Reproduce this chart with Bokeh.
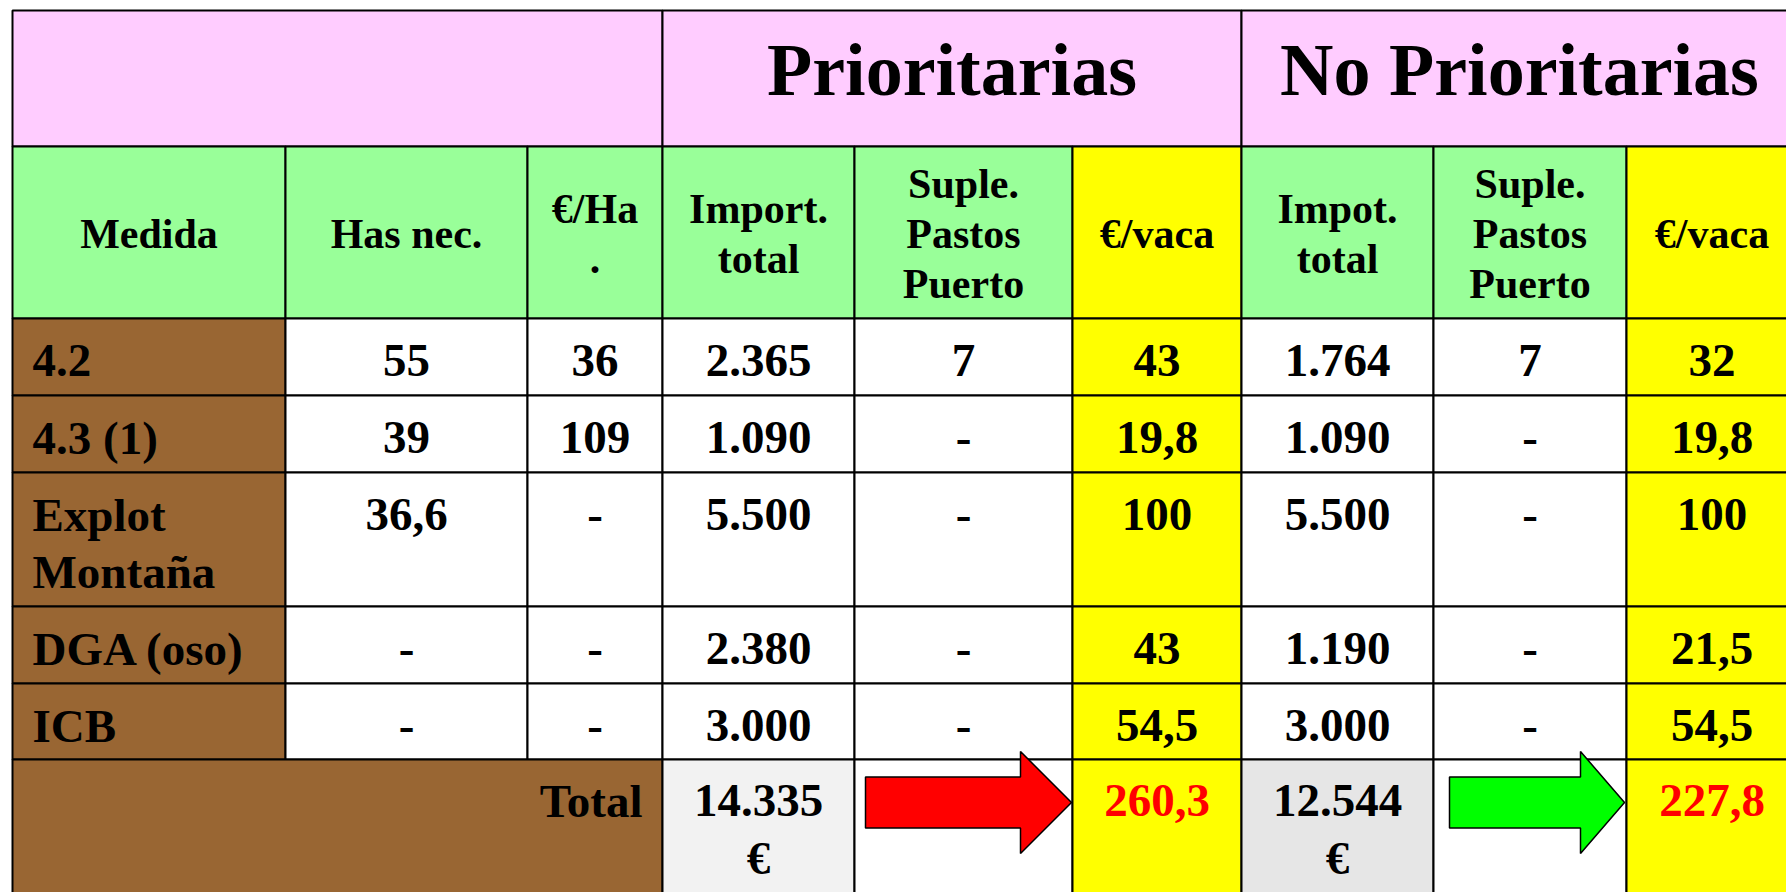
from bokeh.plotting import figure
from bokeh.models import Range1d
from bokeh.core.properties import value
from bokeh.embed import file_html
from bokeh.resources import INLINE

# ---------------- data ----------------
group_titles = ["Prioritarias", "No Prioritarias"]
col_headers = ["Medida", "Has nec.", "€/Ha\n.", "Import.\ntotal",
               "Suple.\nPastos\nPuerto", "€/vaca", "Impot.\ntotal",
               "Suple.\nPastos\nPuerto", "€/vaca"]
medidas = ["4.2", "4.3 (1)", "Explot\nMontaña", "DGA (oso)", "ICB"]
has_nec = ["55", "39", "36,6", "-", "-"]
eur_ha = ["36", "109", "-", "-", "-"]
prio_import = ["2.365", "1.090", "5.500", "2.380", "3.000"]
prio_suple = ["7", "-", "-", "-", "-"]
prio_vaca = ["43", "19,8", "100", "43", "54,5"]
noprio_import = ["1.764", "1.090", "5.500", "1.190", "3.000"]
noprio_suple = ["7", "-", "-", "-", "-"]
noprio_vaca = ["32", "19,8", "100", "21,5", "54,5"]
total_label = "Total"
prio_total_import = "14.335\n€"
prio_total_vaca = "260,3"
noprio_total_import = "12.544\n€"
noprio_total_vaca = "227,8"

# ---------------- layout / styles ----------------
W, H = 1786, 892
col_edges = [12, 285, 527, 662, 854, 1072, 1241, 1433, 1626, 1797]
row_edges = [10, 146, 318, 395, 472, 606, 683, 759, 905]
PINK, GREEN, BROWN, YELLOW = "#FFCCFF", "#99FF99", "#996633", "#FFFF00"
GRAY1, GRAY2 = "#F2F2F2", "#E6E6E6"
FONT = value("Liberation Serif")
title_size, head_size, data_size = 74, 42, 47
head_base, head_lh = 247, 50
data_off, data_lh = 57, 57
pad = 20
base_corr = 0.31  # empirical shift so glyph baselines land on target rows

p = figure(width=W, height=H, x_range=Range1d(0, W), y_range=Range1d(H, 0),
           output_backend="svg", toolbar_location=None, min_border=0,
           x_axis_location=None, y_axis_location=None, outline_line_color=None,
           background_fill_color="white", border_fill_color="white")
p.grid.visible = False

# ---------------- cells ----------------
L, R, T, B, C = [], [], [], [], []


def cell(c0, c1, r, color):
    L.append(col_edges[c0]); R.append(col_edges[c1])
    T.append(row_edges[r]); B.append(row_edges[r + 1]); C.append(color)


cell(0, 3, 0, PINK); cell(3, 6, 0, PINK); cell(6, 9, 0, PINK)
head_colors = [GREEN, GREEN, GREEN, GREEN, GREEN, YELLOW, GREEN, GREEN, YELLOW]
for c, col in enumerate(head_colors):
    cell(c, c + 1, 1, col)
body_colors = [BROWN, "white", "white", "white", "white", YELLOW, "white", "white", YELLOW]
for r in range(len(medidas)):
    for c, col in enumerate(body_colors):
        cell(c, c + 1, 2 + r, col)
tr = 2 + len(medidas)
cell(0, 3, tr, BROWN); cell(3, 4, tr, GRAY1); cell(4, 5, tr, "white"); cell(5, 6, tr, YELLOW)
cell(6, 7, tr, GRAY2); cell(7, 8, tr, "white"); cell(8, 9, tr, YELLOW)

p.quad(left=L, right=R, top=T, bottom=B, fill_color=C, line_color="black", line_width=2)

# ---------------- arrows ----------------
arrow_specs = [(4, "#FF0000", 11, 51, 1), (7, "#00FF00", 16, 44, 2)]
axs, ays, acs = [], [], []
ytop = row_edges[tr]
for c, col, lp, hl, rp in arrow_specs:
    x0 = col_edges[c] + lp
    xt = col_edges[c + 1] - rp
    xh = xt - hl
    yc = ytop + 43
    bh, hh = 25.5, 51
    axs.append([x0, xh, xh, xt, xh, xh, x0])
    ays.append([yc - bh, yc - bh, yc - hh, yc, yc + hh, yc + bh, yc + bh])
    acs.append(col)
p.patches(axs, ays, fill_color=acs, line_color="black", line_width=1.5)

# ---------------- texts ----------------
def centers(c0, c1):
    return (col_edges[c0] + col_edges[c1]) / 2


def put(txt, x, y0, lh, size, align, color="black"):
    for i, line in enumerate(txt.split("\n")):
        p.text(x=[x], y=[y0 + i * lh - base_corr * size], text=[line], text_font=FONT,
               text_font_style="bold", text_font_size=f"{size}px",
               text_align=align, text_baseline="alphabetic", text_color=color)


put(group_titles[0], centers(3, 6), 92, 0, title_size, "center")
put(group_titles[1], centers(6, 9), 92, 0, title_size, "center")

for c, h in enumerate(col_headers):
    n = len(h.split("\n"))
    y0 = head_base - (n - 1) * head_lh / 2
    put(h, centers(c, c + 1), y0, head_lh, head_size, "center")

cols = [has_nec, eur_ha, prio_import, prio_suple, prio_vaca,
        noprio_import, noprio_suple, noprio_vaca]
for r, m in enumerate(medidas):
    y0 = row_edges[2 + r] + data_off
    put(m, col_edges[0] + pad, y0, data_lh, data_size, "left")
    for c, arr in enumerate(cols, start=1):
        put(arr[r], centers(c, c + 1), y0, data_lh, data_size, "center")

y0 = row_edges[tr] + data_off - 1
put(total_label, col_edges[3] - pad, y0, data_lh, data_size, "right")
put(prio_total_import, centers(3, 4), y0, data_lh, data_size, "center")
put(prio_total_vaca, centers(5, 6), y0, data_lh, data_size, "center", "#FF0000")
put(noprio_total_import, centers(6, 7), y0, data_lh, data_size, "center")
put(noprio_total_vaca, centers(8, 9), y0, data_lh, data_size, "center", "#FF0000")

open("out.html", "w").write(file_html(p, INLINE))
